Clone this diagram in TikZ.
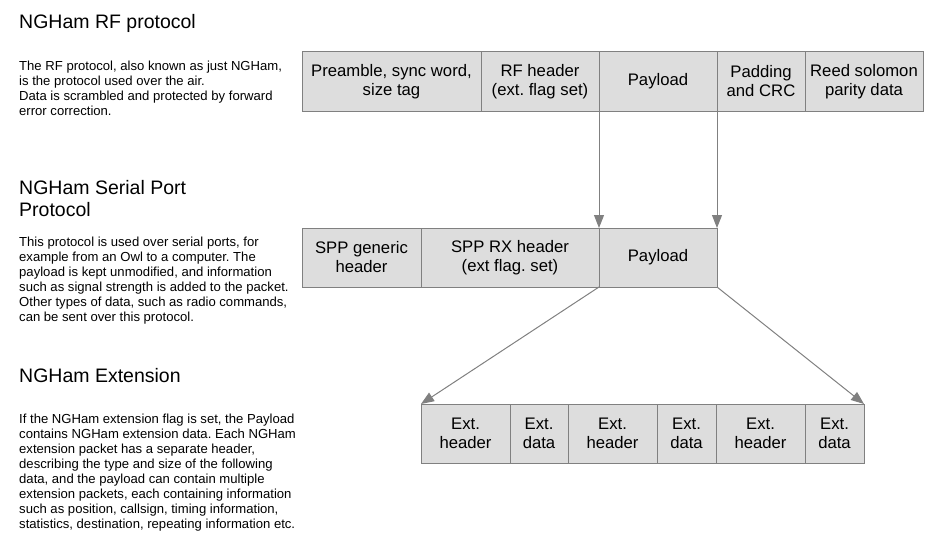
\documentclass[tikz,border=0pt]{standalone}
\usepackage{fontspec}
\setmainfont{Liberation Sans}
\frenchspacing
\definecolor{boxgray}{RGB}{221, 221, 221}
\definecolor{linegray}{RGB}{128, 128, 128}
\usetikzlibrary{positioning, arrows.meta}
\tikzset{
  field/.style={rectangle, draw=linegray, fill=boxgray, minimum width=#1, minimum height=59pt, inner sep=1pt, outer sep=0pt, align=center, font=\fontsize{16.7}{19}\selectfont, line width=1pt},
  field/.default=118pt,
  heading/.style={anchor=base west, inner sep=0pt, align=left, font=\fontsize{19.5}{22}\selectfont},
  blurb/.style={anchor=base west, inner sep=0pt, align=left, font=\fontsize{13.1}{15}\selectfont},
  link/.style={draw=linegray, line width=1pt, -{Triangle[length=13pt, width=10pt]}},
}
\begin{document}
\begin{tikzpicture}[x=1pt, y=-1pt]
\useasboundingbox (0,0) rectangle (945,543);

% RF protocol (base = last line)
\node[heading] (rftitle) at (19,28.5) {NGHam RF protocol};
\node[blurb] (rftext) at (19,115) {The RF protocol, also known as just NGHam,\\is the protocol used over the air.\\Data is scrambled and protected by forward\\error correction.};
\node[field=179pt, anchor=north west] (pre) at (302,52) {Preamble, sync word,\\size tag};
\node[field, right=0pt of pre] (rfhdr) {RF header\\(ext. flag set)};
\node[field, right=0pt of rfhdr] (rfpay) {Payload};
\node[field=88pt, right=0pt of rfpay] (crc) {Padding\\and CRC};
\node[field, right=0pt of crc] (rs) {Reed solomon\\parity data};

% serial port protocol
\node[heading] (spptitle) at (19,216) {NGHam Serial Port\\Protocol};
\node[blurb] (spptext) at (19,321.5) {This protocol is used over serial ports, for\\example from an Owl to a computer. The\\payload is kept unmodified, and information\\such as signal strength is added to the packet.\\Other types of data, such as radio commands,\\can be sent over this protocol.};
\node[field=119pt, anchor=north west] (sppgen) at (302,228) {SPP generic\\header};
\node[field=178pt, right=0pt of sppgen] (spprx) {SPP RX header\\(ext flag. set)};
\node[field, right=0pt of spprx] (spppay) {Payload};

% extension
\node[heading] (exttitle) at (19,382.5) {NGHam Extension};
\node[blurb] (exttext) at (19,528.5) {If the NGHam extension flag is set, the Payload\\contains NGHam extension data. Each NGHam\\extension packet has a separate header,\\describing the type and size of the following\\data, and the payload can contain multiple\\extension packets, each containing information\\such as position, callsign, timing information,\\statistics, destination, repeating information etc.};
\node[field=89pt, anchor=north west] (exthdrA) at (421,404) {Ext.\\header};
\node[field=58pt, right=0pt of exthdrA] (extdatA) {Ext.\\data};
\node[field=89pt, right=0pt of extdatA] (exthdrB) {Ext.\\header};
\node[field=59pt, right=0pt of exthdrB] (extdatB) {Ext.\\data};
\node[field=89pt, right=0pt of extdatB] (exthdrC) {Ext.\\header};
\node[field=59pt, right=0pt of exthdrC] (extdatC) {Ext.\\data};

% arrows
\draw[link] (rfpay.south west) -- (spprx.north east);
\draw[link] (rfpay.south east) -- (spppay.north east);
\draw[link] (spppay.south west) -- (exthdrA.north west);
\draw[link] (spppay.south east) -- (extdatC.north east);
\end{tikzpicture}
\end{document}
